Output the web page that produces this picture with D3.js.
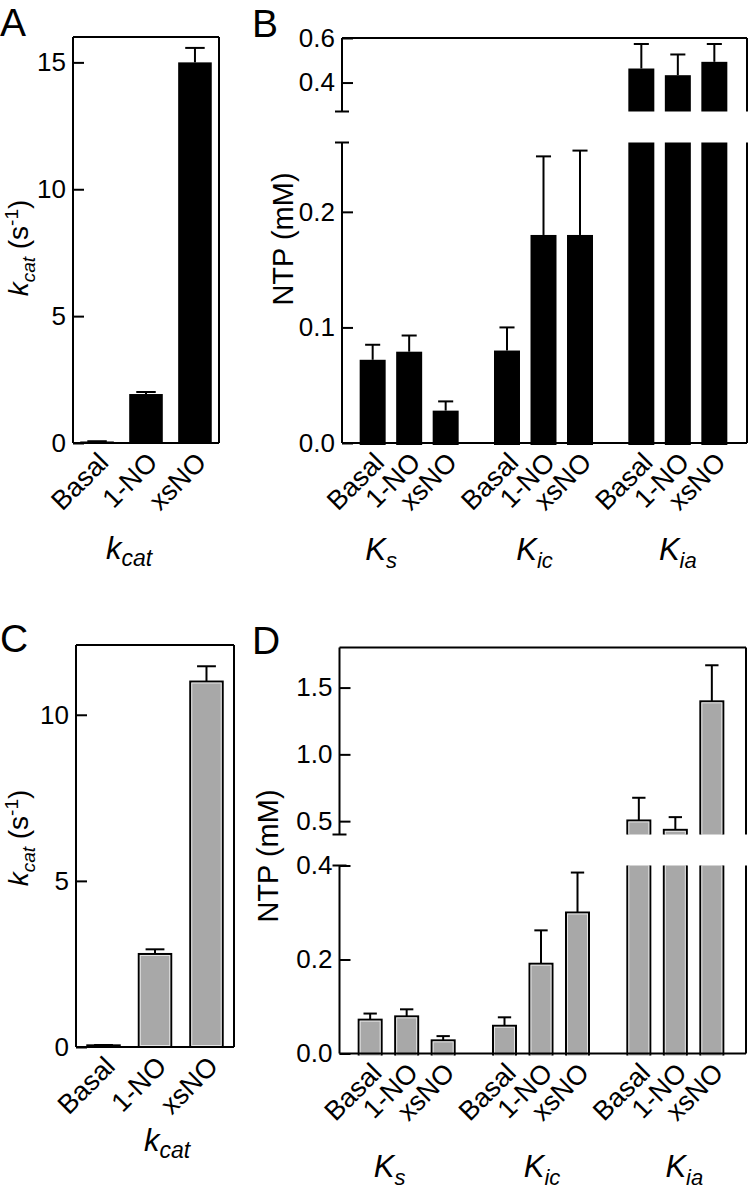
<!DOCTYPE html>
<html>
<head>
<meta charset="utf-8">
<script src="https://cdn.jsdelivr.net/npm/d3@7"></script>
<style>
  body { margin: 0; background: #fff; }
  text { font-family: "Liberation Sans", Arial, sans-serif; fill: #000; }
</style>
</head>
<body>
<svg id="fig" width="750" height="1190"></svg>
<script>
// conditions on the x axis and the three constants of B / D
const conds = ['Basal', '1-NO', 'xsNO'];
const groupSubs = ['s', 'ic', 'ia'];

// panel A: kcat, black bars
const kcatA = [0.06, 1.93, 15.0];
const kcatAErr = [0.01, 0.08, 0.57];
const ticksA = [0, 5, 10, 15];

// panel B: NTP (mM), rows = Ks, Kic, Kia
const ntpB = [[0.072, 0.079, 0.028], [0.080, 0.180, 0.180], [0.463, 0.433, 0.493]];
const ntpBErr = [[0.013, 0.014, 0.008], [0.020, 0.068, 0.073], [0.110, 0.093, 0.080]];
const ticksBLow = [0, 0.1, 0.2];
const ticksBHigh = [0.4, 0.6];

// panel C: kcat, grey bars
const kcatC = [0.05, 2.80, 11.0];
const kcatCErr = [0.01, 0.14, 0.46];
const ticksC = [0, 5, 10];

// panel D: NTP (mM), grey bars
const ntpD = [[0.072, 0.079, 0.028], [0.059, 0.191, 0.300], [0.505, 0.435, 1.397]];
const ntpDErr = [[0.013, 0.015, 0.009], [0.018, 0.071, 0.085], [0.170, 0.095, 0.270]];
const ticksDLow = [0, 0.2, 0.4];
const ticksDHigh = [0.5, 1.0, 1.5];

const svg = d3.select('#fig');
const grey = '#a8a8a8';
const tickFont = 26;
let clipId = 0;

function line(g, x1, y1, x2, y2) {
  g.append('line')
    .attr('x1', x1).attr('y1', y1).attr('x2', x2).attr('y2', y2)
    .attr('stroke', '#000').attr('stroke-width', 2);
}

function leftTicks(g, x, scale, values, fmt) {
  g.append('g')
    .attr('transform', `translate(${x},0)`)
    .call(d3.axisLeft(scale).tickValues(values).tickSize(-11).tickSizeOuter(0)
      .tickPadding(7).tickFormat(d3.format(fmt)))
    .call(a => a.select('.domain').remove())
    .call(a => a.selectAll('line').attr('stroke-width', 2))
    .call(a => a.selectAll('text').attr('font-size', tickFont)
      .attr('font-family', '"Liberation Sans", Arial, sans-serif').attr('fill', '#000'));
}

function bar(g, x, w, yTop, yBase, grey_) {
  if (grey_) {
    g.append('rect').attr('x', x).attr('y', yTop).attr('width', w).attr('height', yBase - yTop)
      .attr('fill', grey).attr('stroke', '#000').attr('stroke-width', 2);
    g.append('rect').attr('x', x + 1.5).attr('y', yTop + 1.5)
      .attr('width', w - 3).attr('height', Math.max(0, yBase - yTop - 3))
      .attr('fill', 'none').attr('stroke', '#e4e4e4').attr('stroke-width', 1);
  } else {
    g.append('rect').attr('x', x).attr('y', yTop).attr('width', w).attr('height', yBase - yTop)
      .attr('fill', '#000');
  }
}

function errBar(g, cx, y0, y1, cap) {
  line(g, cx, y0, cx, y1);
  line(g, cx - cap / 2, y1, cx + cap / 2, y1);
}

function catLabels(g, xs, yAxis) {
  conds.forEach((c, i) => {
    const ax = xs[i] + 13, ay = yAxis + 21;
    g.append('text')
      .attr('transform', `translate(${ax},${ay}) rotate(-45)`)
      .attr('text-anchor', 'end')
      .attr('font-size', 27)
      .text(c);
  });
}

function kcatText(t, small) {
  t.append('tspan').attr('font-style', 'italic').text('k');
  t.append('tspan').attr('font-style', 'italic').attr('font-size', small).attr('dy', 7).text('cat');
}

function panelLetter(x, y, s) {
  svg.append('text').attr('x', x).attr('y', y).attr('font-size', 39).text(s);
}

// ---------- kcat panels (A and C) ----------
function kcatPanel(o) {
  const g = svg.append('g');
  const x = d3.scaleBand().domain(conds).range([o.left, o.right])
    .paddingInner(o.pi).paddingOuter(o.po);
  const y = d3.scaleLinear().domain([0, o.yMax]).range([o.bottom, o.top]);
  const bw = x.bandwidth();

  o.vals.forEach((v, i) => {
    const bx = x(conds[i]);
    bar(g, bx, bw, y(v), y(0), o.grey);
    errBar(g, bx + bw / 2, y(v), y(v + o.errs[i]), bw * 0.58);
  });

  // frame
  line(g, o.left, o.top, o.right, o.top);
  line(g, o.left, o.bottom, o.right, o.bottom);
  line(g, o.left, o.top, o.left, o.bottom);
  line(g, o.right, o.top, o.right, o.bottom);
  leftTicks(g, o.left, y, o.ticks, 'd');

  catLabels(g, conds.map(c => x(c) + bw / 2), o.bottom);

  // y title
  const yt = g.append('text')
    .attr('transform', `translate(${o.yTitleX},${o.yTitleY}) rotate(-90)`)
    .attr('text-anchor', 'middle').attr('font-size', 28);
  kcatText(yt, 19);
  yt.append('tspan').attr('dy', -7).text(' (s');
  yt.append('tspan').attr('font-size', 19).attr('dy', -10).text('-1');
  yt.append('tspan').attr('dy', 10).text(')');

  // x title
  const xt = g.append('text')
    .attr('x', (o.left + o.right) / 2 + o.xTitleDx).attr('y', o.xTitleY)
    .attr('text-anchor', 'middle').attr('font-size', 31);
  kcatText(xt, 23);
}

// ---------- NTP panels with broken axis (B and D) ----------
function ntpPanel(o) {
  const g = svg.append('g');
  const xg = d3.scaleBand().domain(groupSubs).range([o.left, o.left + 403]).padding(0);
  const xc = d3.scaleBand().domain(conds).range([0, xg.bandwidth()])
    .paddingInner(o.pi).paddingOuter(o.po);
  const bw = xc.bandwidth();
  const yLo = d3.scaleLinear().domain(o.lowDomain).range([o.bottom, o.lowTop]);
  const yHi = d3.scaleLinear().domain(o.highDomain).range([o.highBottom, o.top]);

  const segs = [
    { scale: yLo, y0: o.lowTop, y1: o.bottom + 2, min: -1 },
    { scale: yHi, y0: o.top, y1: o.highBottom, min: o.highDomain[0] }
  ];
  segs.forEach(s => {
    const id = 'clip' + (clipId++);
    svg.append('clipPath').attr('id', id).append('rect')
      .attr('x', o.left).attr('y', s.y0).attr('width', o.right - o.left).attr('height', s.y1 - s.y0);
    const sg = g.append('g').attr('clip-path', `url(#${id})`);
    o.vals.forEach((row, gi) => {
      row.forEach((v, ci) => {
        if (v <= s.min) return;
        const bx = xg(groupSubs[gi]) + xc(conds[ci]);
        bar(sg, bx, bw, s.scale(v), s.scale(0) + 4, o.grey);
      });
    });
  });

  // error bars, in whichever segment holds the bar top
  o.vals.forEach((row, gi) => {
    row.forEach((v, ci) => {
      const top = v + o.errs[gi][ci];
      const sc = top > o.lowDomain[1] ? yHi : yLo;
      const cx = xg(groupSubs[gi]) + xc(conds[ci]) + bw / 2;
      errBar(g, cx, sc(v), sc(top), bw * 0.58);
    });
  });

  // frame with the break
  line(g, o.left, o.top, o.right, o.top);
  line(g, o.left, o.bottom, o.right, o.bottom);
  line(g, o.left, o.top, o.left, o.highBottom);
  line(g, o.left, o.lowTop, o.left, o.bottom);
  line(g, o.right, o.top, o.right, o.highBottom);
  line(g, o.right, o.lowTop, o.right, o.bottom);
  line(g, o.left - 7, o.highBottom, o.left + 7, o.highBottom);
  line(g, o.left - 7, o.lowTop, o.left + 7, o.lowTop);

  leftTicks(g, o.left, yLo, o.lowTicks, '.1f');
  leftTicks(g, o.left, yHi, o.highTicks, '.1f');

  groupSubs.forEach((gs, gi) => {
    const gx = xg(gs);
    catLabels(g, conds.map(c => gx + xc(c) + bw / 2), o.bottom);
    const t = g.append('text')
      .attr('x', gx + xg.bandwidth() / 2 + o.groupDx[gi]).attr('y', o.groupY)
      .attr('text-anchor', 'middle').attr('font-size', 31).attr('font-style', 'italic');
    t.append('tspan').text('K');
    t.append('tspan').attr('font-size', 22).attr('dy', 8).text(gs);
  });

  g.append('text')
    .attr('transform', `translate(${o.yTitleX},${o.yTitleY}) rotate(-90)`)
    .attr('text-anchor', 'middle').attr('font-size', 29)
    .text('NTP (mM)');
}

kcatPanel({
  left: 73, right: 219, top: 37, bottom: 443, yMax: 16, ticks: ticksA,
  vals: kcatA, errs: kcatAErr, grey: false, pi: 0.314, po: 0.148,
  yTitleX: 28, yTitleY: 248, xTitleY: 559, xTitleDx: -17
});

ntpPanel({
  left: 342, right: 747, top: 38, bottom: 443,
  lowDomain: [0, 0.26], lowTop: 142.5, highDomain: [0.27, 0.6], highBottom: 111.5,
  lowTicks: ticksBLow, highTicks: ticksBHigh,
  vals: ntpB, errs: ntpBErr, grey: false, pi: 0.288, po: 0.484,
  groupDx: [-28, -9, 0], groupY: 560, yTitleX: 293, yTitleY: 239
});

kcatPanel({
  left: 76, right: 234, top: 645, bottom: 1047, yMax: 12.1, ticks: ticksC,
  vals: kcatC, errs: kcatCErr, grey: true, pi: 0.369, po: 0.219,
  yTitleX: 28, yTitleY: 838, xTitleY: 1151, xTitleDx: 12
});

ntpPanel({
  left: 339.5, right: 746, top: 647.5, bottom: 1053.5,
  lowDomain: [0, 0.4], lowTop: 865.5, highDomain: [0.4, 1.8], highBottom: 834.5,
  lowTicks: ticksDLow, highTicks: ticksDHigh,
  vals: ntpD, errs: ntpDErr, grey: true, pi: 0.37, po: 0.525,
  groupDx: [-17, 1, 9], groupY: 1177, yTitleX: 278, yTitleY: 856
});

panelLetter(0, 36, 'A');
panelLetter(252, 37, 'B');
panelLetter(0, 652, 'C');
panelLetter(252, 654, 'D');
</script>
</body>
</html>
